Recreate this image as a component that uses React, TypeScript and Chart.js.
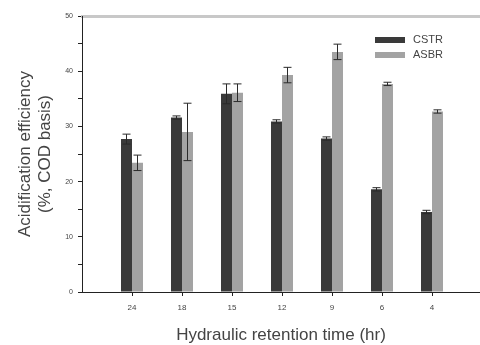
import React, { useEffect, useRef } from "react";
import { Chart, registerables } from "chart.js";

Chart.register(...registerables);

const categories = ["24", "18", "15", "12", "9", "6", "4"];
const cstrValues = [27.7, 31.6, 35.9, 30.9, 27.8, 18.6, 14.5];
const cstrErrors = [0.9, 0.3, 1.8, 0.3, 0.3, 0.3, 0.3];
const asbrValues = [23.4, 29.0, 36.1, 39.3, 43.5, 37.7, 32.7];
const asbrErrors = [1.4, 5.2, 1.6, 1.4, 1.4, 0.3, 0.3];
const seriesNames = ["CSTR", "ASBR"];
const yTitle = ["Acidification efficiency", "(%, COD basis)"];
const xTitle = "Hydraulic retention time (hr)";

const FONT = "'Liberation Sans', Arial, sans-serif";

const errorBarPlugin = {
  id: "errorBars",
  afterDatasetsDraw(chart: any) {
    const ctx = chart.ctx;
    const yScale = chart.scales.y;
    chart.data.datasets.forEach((ds: any, di: number) => {
      const meta = chart.getDatasetMeta(di);
      const errs = ds.errors || [];
      meta.data.forEach((bar: any, i: number) => {
        const v = ds.data[i].y;
        const e = errs[i] || 0;
        const top = yScale.getPixelForValue(v + e);
        const bot = yScale.getPixelForValue(v - e);
        ctx.save();
        ctx.strokeStyle = "#2a2a2a";
        ctx.lineWidth = 1;
        ctx.beginPath();
        ctx.moveTo(bar.x, top);
        ctx.lineTo(bar.x, bot);
        ctx.moveTo(bar.x - 4, top);
        ctx.lineTo(bar.x + 4, top);
        ctx.moveTo(bar.x - 4, bot);
        ctx.lineTo(bar.x + 4, bot);
        ctx.stroke();
        ctx.restore();
      });
    });
  },
};

const legendPlugin = {
  id: "insideLegend",
  afterDraw(chart: any) {
    const ctx = chart.ctx;
    const area = chart.chartArea;
    const x0 = area.right - 105;
    const y0 = area.top + 24;
    ctx.save();
    chart.data.datasets.forEach((ds: any, i: number) => {
      const y = y0 + i * 15;
      ctx.fillStyle = ds.backgroundColor;
      ctx.fillRect(x0, y - 3, 30, 6);
      ctx.fillStyle = "#444";
      ctx.font = `11px ${FONT}`;
      ctx.textBaseline = "middle";
      ctx.textAlign = "left";
      ctx.fillText(ds.label, x0 + 38, y);
    });
    ctx.restore();
  },
};

export default function App() {
  const ref = useRef<HTMLCanvasElement>(null);
  useEffect(() => {
    if (!ref.current) return;
    const chart = new Chart(ref.current, {
      type: "bar",
      data: {
        datasets: [
          {
            label: seriesNames[0],
            data: cstrValues.map((v, i) => ({ x: i + 1, y: v })),
            errors: cstrErrors,
            backgroundColor: "#3a3a3a",
            categoryPercentage: 0.44,
            barPercentage: 1,
          } as any,
          {
            label: seriesNames[1],
            data: asbrValues.map((v, i) => ({ x: i + 1, y: v })),
            errors: asbrErrors,
            backgroundColor: "#a3a3a3",
            categoryPercentage: 0.44,
            barPercentage: 1,
          } as any,
        ],
      },
      plugins: [errorBarPlugin, legendPlugin],
      options: {
        animation: false,
        responsive: false,
        maintainAspectRatio: false,
        layout: { padding: 0 },
        plugins: { legend: { display: false }, tooltip: { enabled: false } },
        scales: {
          x: {
            type: "linear",
            position: "bottom",
            offset: false,
            min: 0,
            max: 7.96,
            afterBuildTicks: (s: any) => {
              s.ticks = categories.map((_, i) => ({ value: i + 1 }));
            },
            afterFit: (s: any) => {
              s.height = 53;
            },
            ticks: {
              autoSkip: false,
              maxRotation: 0,
              padding: 7,
              color: "#444",
              font: { family: FONT, size: 8 },
              callback: (v: any) => categories[Number(v) - 1] ?? "",
            },
            grid: {
              offset: false,
              drawOnChartArea: false,
              drawTicks: true,
              tickLength: 4,
              color: "#222",
            },
            border: { color: "#222", width: 1 },
            title: {
              display: true,
              text: xTitle,
              color: "#444",
              font: { family: FONT, size: 17, lineHeight: 1 },
              padding: { top: 0, bottom: 1 },
            },
          },
          xTop: {
            type: "linear",
            position: "top",
            offset: false,
            min: 0,
            max: 7.96,
            ticks: { display: false },
            grid: { display: false, offset: false },
            border: { color: "#c8c8c8", width: 3 },
            afterFit: (s: any) => {
              s.height = 16;
            },
          },
          y: {
            type: "linear",
            min: 0,
            max: 50,
            afterFit: (s: any) => {
              s.width = 82;
            },
            ticks: {
              stepSize: 5,
              padding: 5,
              color: "#444",
              font: { family: FONT, size: 7 },
              callback: (v: any) => (Number(v) % 10 === 0 ? String(v) : ""),
            },
            grid: {
              drawOnChartArea: false,
              drawTicks: true,
              tickLength: 4,
              color: "#222",
            },
            border: { color: "#222", width: 1 },
            title: {
              display: true,
              text: yTitle,
              color: "#444",
              font: { family: FONT, size: 17, lineHeight: "20px" },
              padding: { top: 15, bottom: 0 },
            },
          },
        },
      },
    });
    return () => chart.destroy();
  }, []);
  return (
    <div style={{ position: "fixed", left: 0, top: 0, width: 480, height: 345, background: "#fff" }}>
      <canvas ref={ref} width={480} height={345} style={{ width: 480, height: 345 }} />
    </div>
  );
}
